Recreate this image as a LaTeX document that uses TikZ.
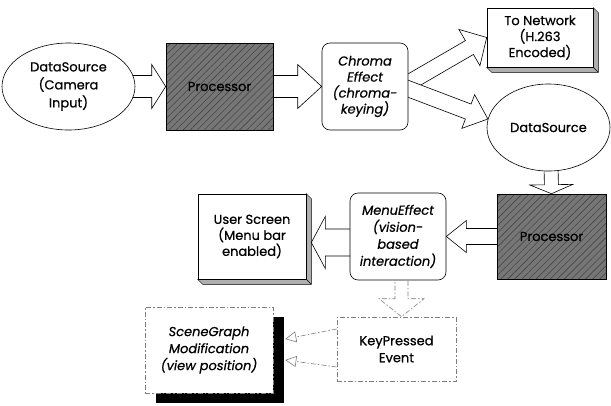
\documentclass[tikz,border=0pt]{standalone}
\usepackage{fontspec}
\setmainfont{Poppins}[UprightFeatures={FakeBold=0.6},ItalicFeatures={FakeBold=0.6}]
\usetikzlibrary{calc,shapes.geometric,patterns.meta,arrows.meta}
\pgfdeclarelayer{bg}
\pgfsetlayers{bg,main}
\definecolor{hatchbg}{RGB}{118,118,118}
\definecolor{hatchfg}{RGB}{70,70,70}
\definecolor{dashgray}{RGB}{125,125,125}
\definecolor{bevel}{RGB}{175,175,175}
% #1 style, #2 from, #3 to, #4 shaft half width, #5 head half width, #6 head length
\newcommand\blockarrow[6]{%
  \coordinate (ba-h) at ($(#3)!#6!(#2)$);
  \path[#1] ($(#2)!#4!90:(#3)$) -- ($(ba-h)!#4!90:(#3)$) -- ($(ba-h)!#5!90:(#3)$)
     -- (#3) -- ($(ba-h)!#5!-90:(#3)$) -- ($(ba-h)!#4!-90:(#3)$) -- ($(#2)!#4!-90:(#3)$);
}
\begin{document}
\begin{tikzpicture}[x=1pt,y=-1pt,line width=0.6pt,
  every node/.style={font=\fontsize{13}{17}\selectfont, align=center, inner sep=0pt},
  itfont/.style={font=\fontsize{13}{17}\selectfont\itshape},
  tight/.style={font=\fontsize{13}{16}\selectfont},
  tightit/.style={font=\fontsize{13}{16}\selectfont\itshape},
  ellnode/.style={ellipse, draw, fill=white},
  plainbox/.style={rectangle, draw, fill=white},
  roundbox/.style={rectangle, draw, fill=white, rounded corners=8pt},
  hatchbox/.style={rectangle, draw, preaction={fill=hatchbg},
     pattern={Lines[angle=45,distance=5pt,line width=0.6pt]}, pattern color=hatchfg},
  dashline/.style={draw=dashgray, dash pattern=on 5pt off 2pt on 1.5pt off 2pt, line width=0.6pt},
  dashbox/.style={rectangle, dashline, fill=white},
  solidba/.style={draw=black, fill=white, line width=0.6pt, line join=miter},
  dashba/.style={dashline, fill=white, line join=miter},
  bevelshade/.style={fill=bevel, draw=black, line width=0.4pt}]
\useasboundingbox (0,0) rectangle (611,405);

% nodes
\node[ellnode, font=\fontsize{13}{18}\selectfont, minimum width=133pt, minimum height=87pt] (ds1) at (68.5,86.5) {DataSource\\(Camera\\Input)};
\node[hatchbox, minimum width=107pt, minimum height=87pt] (proc1) at (219.5,86.5) {Processor};
\node[roundbox, tightit, minimum width=86pt, minimum height=87pt] (chroma) at (365,86.5) {Chroma\\Effect\\(chroma-\\keying)};
\node[plainbox, tight, minimum width=106pt, minimum height=59pt] (net) at (540,37.5) {To Network\\(H.263\\Encoded)};
\node[ellnode, minimum width=123pt, minimum height=87pt] (ds2) at (548.5,127.5) {DataSource};
\node[hatchbox, minimum width=109pt, minimum height=85pt] (proc2) at (551.5,236.5) {Processor};
\node[roundbox, itfont, minimum width=96pt, minimum height=87pt] (menu) at (398,236.5) {MenuEffect\\(vision-\\based\\interaction)};
\node[plainbox, tight, minimum width=108pt, minimum height=85pt] (user) at (252,236.5) {User Screen\\(Menu bar\\enabled)};
\node[dashbox, minimum width=119pt, minimum height=64pt] (key) at (396.5,349) {KeyPressed\\Event};
\node[dashbox, itfont, minimum width=128pt, minimum height=86pt] (scene) at (209,350) {SceneGraph\\Modification\\(view position)};

\begin{pgfonlayer}{bg}
  % shadows
  \path[bevelshade] (net.north east) -- ++(5,5) -- ($(net.south east)+(5,5)$)
     -- ($(net.south west)+(5,5)$) -- (net.south west) -- (net.south east) -- cycle;
  \draw[line width=0.4pt] (net.south east) -- ++(5,5);
  \path[bevelshade] (user.north east) -- ++(5,5) -- ($(user.south east)+(5,5)$)
     -- ($(user.south west)+(5,5)$) -- (user.south west) -- (user.south east) -- cycle;
  \draw[line width=0.4pt] (user.south east) -- ++(5,5);
  \fill[black] ($(scene.north west)+(11,10)$) rectangle ($(scene.south east)+(11,10)$);

  % block arrows
  \blockarrow{solidba}{ds1.center}{proc1.west}{11pt}{22pt}{14pt}
  \blockarrow{solidba}{proc1.center}{chroma.west}{11pt}{22pt}{24pt}
  \coordinate (cst) at ($(chroma.east)+(-6,0)$);
  \blockarrow{solidba}{cst}{net.west}{8pt}{21pt}{20pt}
  \blockarrow{solidba}{cst}{ds2.172}{8pt}{18pt}{21pt}
  \coordinate (dsb) at ($(ds2.south)+(2.5,-10)$);
  \blockarrow{solidba}{dsb}{proc2.north}{7pt}{21.5pt}{9pt}
  \blockarrow{solidba}{proc2.center}{menu.east}{8pt}{16pt}{20pt}
  \coordinate (mst) at ($(menu.west)+(10,6)$);
  \coordinate (uen) at ($(user.east)+(5,6)$);
  \blockarrow{solidba}{mst}{uen}{13.5pt}{26pt}{14pt}
  \coordinate (mbt) at ($(menu.south)+(3.5,-10)$);
  \coordinate (ktp) at ($(key.north)+(5,0)$);
  \blockarrow{dashba}{mbt}{ktp}{6.5pt}{22.5pt}{18pt}
\end{pgfonlayer}

% key -> scene connectors
\coordinate (k1) at ($(key.west)+(0,-20)$);
\coordinate (s1) at ($(scene.east)+(12,-11)$);
\coordinate (k2) at ($(key.west)+(0,18)$);
\coordinate (s2) at ($(scene.east)+(12,10)$);
\draw[dashline, -{Triangle[open,length=11pt,width=11pt]}] (k1) -- (s1);
\draw[dashline, -{Triangle[open,length=11pt,width=11pt]}] (k2) -- (s2);
\end{tikzpicture}
\end{document}
